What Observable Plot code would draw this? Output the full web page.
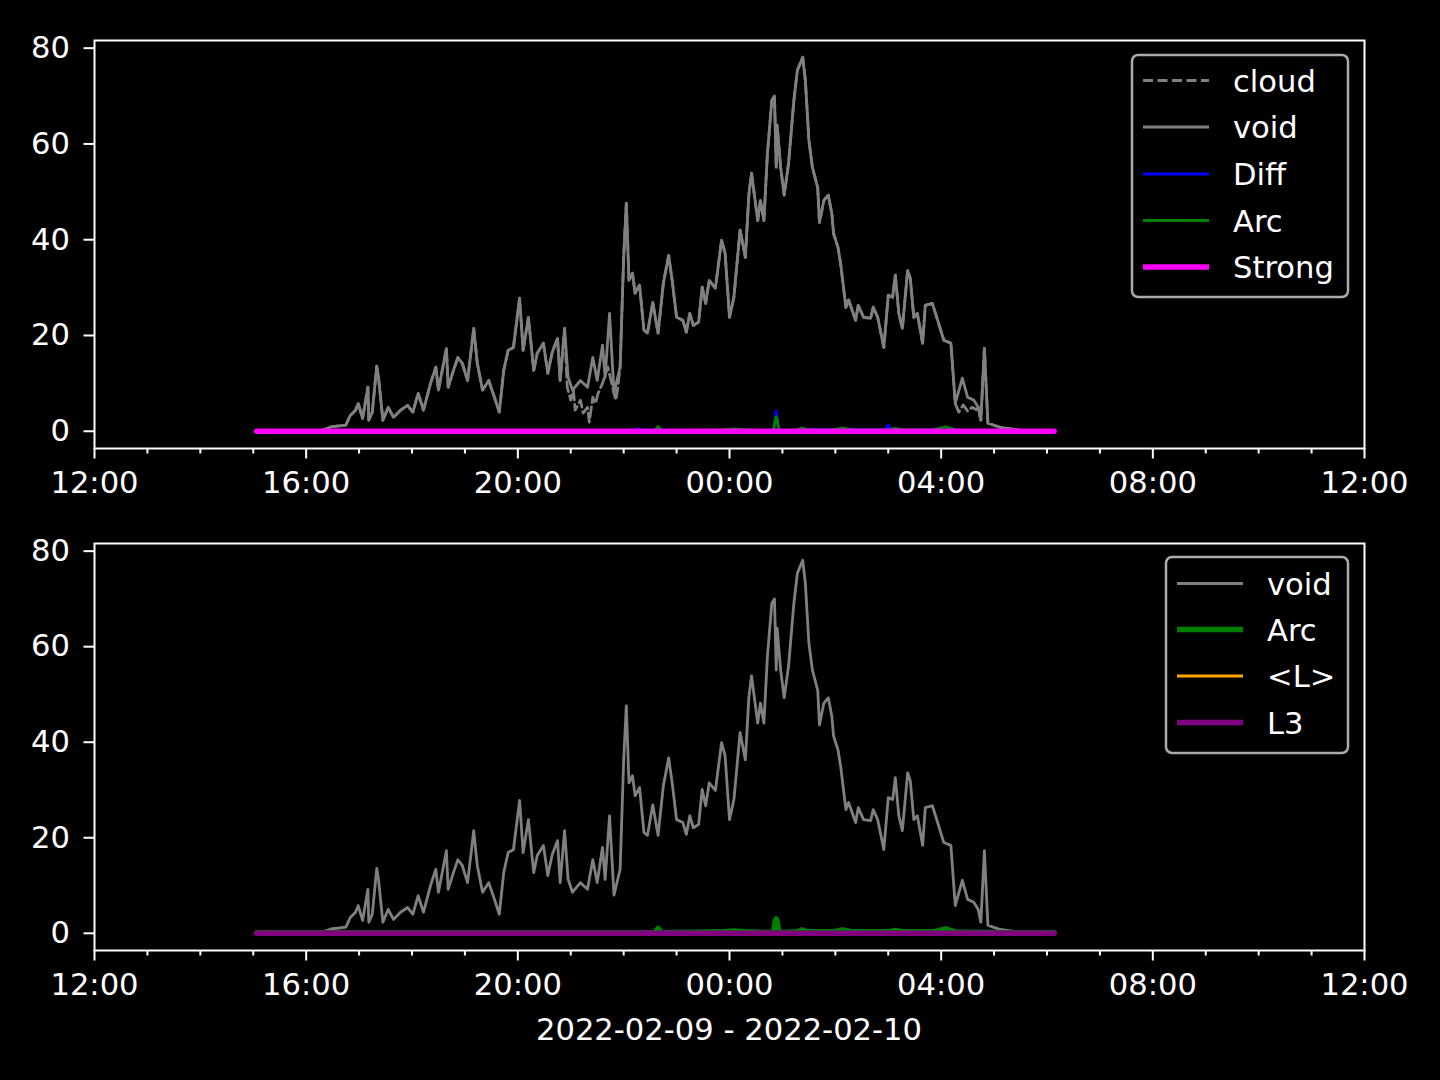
<!DOCTYPE html>
<html><head><meta charset="utf-8">
<script src="https://cdn.jsdelivr.net/npm/d3@7"></script>
<script src="https://cdn.jsdelivr.net/npm/@observablehq/plot@0.6"></script>
<style>
html,body{margin:0;padding:0;background:#000;}
#root{position:relative;width:1440px;height:1080px;background:#000;overflow:hidden;font-family:"DejaVu Sans",sans-serif;}
.panel{position:absolute;left:0;}
#overlay{position:absolute;left:0;top:0;pointer-events:none;}
</style></head>
<body><div id="root"><div id="p1" class="panel" style="top:0"></div><div id="p2" class="panel" style="top:540px"></div></div>
<script>
// ---- data (times are HH:MM, afternoon = 2022-02-09, morning = 2022-02-10) ----
const voidTimes = ["15:04","16:16","16:28","16:45","16:50","16:56","16:59","17:04","17:10","17:11","17:15","17:20","17:22","17:27","17:33","17:39","17:47","17:55","18:01","18:07","18:13","18:21","18:27","18:30","18:39","18:41","18:47","18:52","18:57","19:03","19:10","19:14","19:20","19:27","19:32","19:39","19:44","19:49","19:55","20:02","20:06","20:12","20:18","20:22","20:29","20:34","20:39","20:45","20:48","20:53","20:57","21:02","21:11","21:19","21:25","21:30","21:36","21:39","21:44","21:49","21:56","22:00","22:03","22:06","22:10","22:13","22:18","22:23","22:27","22:33","22:39","22:45","22:51","22:55","23:00","23:07","23:11","23:15","23:19","23:25","23:29","23:33","23:37","23:44","23:51","23:55","00:00","00:05","00:12","00:18","00:22","00:25","00:32","00:35","00:39","00:43","00:48","00:51","00:53","00:54","00:58","01:02","01:07","01:13","01:17","01:23","01:26","01:30","01:34","01:40","01:42","01:47","01:52","01:56","01:58","02:03","02:06","02:12","02:15","02:23","02:26","02:32","02:40","02:43","02:48","02:55","03:00","03:05","03:08","03:12","03:16","03:22","03:25","03:29","03:33","03:39","03:42","03:50","03:56","04:03","04:11","04:16","04:24","04:30","04:37","04:42","04:45","04:49","04:53","04:59","05:07","05:15","05:30","06:08"];
const voidValues = [0,0.1,0.9,1.3,3.3,4.4,5.8,2.7,9.2,2.3,4.0,13.6,11.3,2.3,5.0,2.9,4.4,5.4,4.0,7.9,4.4,10.0,13.4,8.6,17.3,9.2,12.7,15.4,14.2,10.6,21.5,14.2,8.6,10.6,7.9,4.0,12.7,16.9,17.5,27.8,16.9,23.8,12.7,16.3,18.4,12.1,16.5,19.4,10.6,21.5,11.3,8.6,10.6,9.2,15.4,10.6,18.0,11.3,24.6,8.0,13.4,36.3,47.6,31.5,33.0,28.8,30.5,21.1,20.5,26.9,20.5,30.9,36.7,31.5,23.8,23.2,20.7,24.6,22.1,22.8,30.1,26.7,31.5,29.9,39.9,37.2,23.8,28.0,42.0,36.3,49.5,53.9,44.0,48.2,44.0,58.0,69.1,70.0,55.1,63.9,55.1,49.3,56.0,69.1,75.4,78.1,73.3,60.8,55.1,50.9,43.6,48.2,49.3,45.5,41.3,38.4,35.0,25.9,27.4,23.2,26.3,23.8,23.6,25.9,23.8,17.5,28.4,28.0,32.6,24.6,21.5,33.6,31.9,23.8,24.6,18.4,26.3,26.7,23.2,19.0,18.4,5.8,11.1,7.1,6.5,5.0,2.3,17.3,1.7,1.3,0.8,0.6,0.2,0.1];

// cloud follows void except inside these segments, where it reads lower
const cloudSegments = [["20:55","21:55"],["04:17","04:41"]];
const cloudTimes = ["20:56","21:00","21:03","21:05","21:11","21:14","21:19","21:21","21:25","21:28","21:31","21:36","21:42","21:51","21:53","04:20","04:25","04:30","04:35","04:40"];
const cloudValues = [9.2,6.5,8.6,4.4,6.5,3.8,5.0,1.9,7.1,5.8,7.9,10.0,13.4,6.5,8.6,4.0,5.5,4.2,5.0,4.5];

const diffTimes = ["15:04","22:10","22:16","22:22","00:50","00:53","00:56","01:20","01:25","02:10","02:15","02:56","03:00","03:04","03:58","04:05","04:12","06:08"];
const diffValues = [0.1,0.1,0.5,0.1,0.1,4.2,0.1,0.1,0.4,0.2,0.4,0.2,1.3,0.2,0.2,0.5,0.2,0.1];

const arcTimes = ["15:04","22:35","22:39","22:43","23:50","00:05","00:20","00:50","00:52","00:53","00:54","00:56","01:17","01:22","01:28","01:58","02:08","02:20","03:00","03:08","03:17","03:51","04:05","04:18","06:08"];
const arcValues = [0.1,0.1,1.0,0.1,0.3,0.5,0.3,0.1,2.6,3.0,2.6,0.1,0.3,0.7,0.3,0.3,0.7,0.3,0.3,0.6,0.3,0.3,0.9,0.2,0.1];

const strongTimes = ["15:04","06:08"];
const strongValues = [0,0];
const lMeanTimes = ["15:04","06:08"];
const lMeanValues = [0.1,0.1];
const l3Times = ["15:04","06:08"];
const l3Values = [0,0];

const majorTickLabels = ["12:00","16:00","20:00","00:00","04:00","08:00","12:00+"];
const yTicks = [0,20,40,60,80];
const xLabel = "2022-02-09 - 2022-02-10";

// ---- helpers ----
function toDate(s) {
  const next = s.endsWith("+");
  const [h, m] = s.replace("+","").split(":").map(Number);
  const day = (next || h < 12) ? 10 : 9;
  return new Date(Date.UTC(2022, 1, day, h, m));
}
function mins(s){ const [h,m]=s.split(":").map(Number); return ((h<12?h+24:h)*60+m); }
function series(times, values){ return times.map((s,i)=>({t:toDate(s), v:values[i]})); }

const voidData = series(voidTimes, voidValues);
const cloudData = voidTimes.map((s,i)=>({s, v:voidValues[i]}))
  .filter(d => !cloudSegments.some(([a,b]) => mins(d.s) > mins(a) && mins(d.s) < mins(b)))
  .concat(cloudTimes.map((s,i)=>({s, v:cloudValues[i]})))
  .sort((a,b)=>mins(a.s)-mins(b.s))
  .map(d=>({t:toDate(d.s), v:d.v}));
const diffData = series(diffTimes, diffValues);
const arcData = series(arcTimes, arcValues);
const strongData = series(strongTimes, strongValues);
const lMeanData = series(lMeanTimes, lMeanValues);
const l3Data = series(l3Times, l3Values);

const xDomain = [toDate("12:00"), toDate("12:00+")];
const majorTicks = majorTickLabels.map(toDate);
const minorTicks = d3.utcHour.range(xDomain[0], d3.utcHour.offset(xDomain[1],1)).filter(d => d.getUTCHours() % 4 !== 0);
const fmt = d3.utcFormat("%H:%M");

const FS = 30.6;
const LW = 2.8, LWT = 5.5;

function line(data, stroke, w, extra={}) {
  return Plot.lineY(data, {x:"t", y:"v", stroke, strokeWidth:w, strokeLinejoin:"round", ...extra});
}

function panel(marks, height, mt, mb) {
  return Plot.plot({
    width:1440, height, marginLeft:94, marginRight:76, marginTop:mt, marginBottom:mb,
    x:{type:"utc", domain:xDomain},
    y:{domain:[-3.6, 81.6]},
    style:{background:"black", color:"white", fontFamily:"'DejaVu Sans', sans-serif", fontSize:FS+"px", overflow:"visible"},
    marks:[
      ...marks,
      Plot.frame({stroke:"white", strokeWidth:2}),
      Plot.axisX({ticks:majorTicks, tickFormat:fmt, tickSize:10.5, tickPadding:12, fontSize:FS, strokeWidth:2, label:null}),
      Plot.axisX({ticks:minorTicks, tickFormat:()=>"", tickSize:5.5, strokeWidth:2, label:null}),
      Plot.axisY({ticks:yTicks, tickSize:10.5, tickPadding:14, fontSize:FS, strokeWidth:2, label:null})
    ]
  });
}

const topPanel = panel([
  line(cloudData, "gray", LW, {strokeDasharray:"10,4.5"}),
  line(voidData, "gray", LW),
  line(diffData, "blue", LW),
  line(arcData, "green", LW),
  line(strongData, "magenta", LWT)
], 540, 40, 92);
const bottomPanel = panel([
  line(voidData, "gray", LW),
  line(arcData, "green", LWT),
  line(lMeanData, "orange", LW),
  line(l3Data, "purple", LWT)
], 540, 3, 130);
document.getElementById("p1").appendChild(topPanel);
document.getElementById("p2").appendChild(bottomPanel);

// ---- legends and x label overlay ----
const svg = d3.select("#root").append("svg").attr("id","overlay").attr("width",1440).attr("height",1080)
  .style("font-family","'DejaVu Sans', sans-serif").style("font-size", FS+"px");
function legend(box, hx0, hx1, tx, rows) {
  svg.append("rect").attr("x",box[0]).attr("y",box[1]).attr("width",box[2]-box[0]).attr("height",box[3]-box[1])
    .attr("rx",6).attr("fill","black").attr("stroke","#ababab").attr("stroke-width",2.5);
  rows.forEach(r => {
    svg.append("line").attr("x1",hx0).attr("x2",hx1).attr("y1",r.y).attr("y2",r.y)
      .attr("stroke",r.c).attr("stroke-width",r.w).attr("stroke-dasharray",r.dash||null);
    svg.append("text").attr("x",tx).attr("y",r.y+11).attr("fill","white").text(r.label);
  });
}
legend([1132,55,1348,297], 1143, 1209, 1233, [
  {label:"cloud", c:"gray", w:LW, dash:"10,4.5", y:80.5},
  {label:"void", c:"gray", w:LW, y:127},
  {label:"Diff", c:"blue", w:LW, y:174},
  {label:"Arc", c:"green", w:LW, y:220.5},
  {label:"Strong", c:"magenta", w:LWT, y:267}
]);
legend([1166,557,1348,753], 1177, 1243, 1267, [
  {label:"void", c:"gray", w:LW, y:583.5},
  {label:"Arc", c:"green", w:LWT, y:629.5},
  {label:"<L>", c:"orange", w:LW, y:676},
  {label:"L3", c:"purple", w:LWT, y:722.5}
]);
svg.append("text").attr("x",729).attr("y",1040).attr("text-anchor","middle").attr("fill","white").text(xLabel);
</script>
</body></html>
